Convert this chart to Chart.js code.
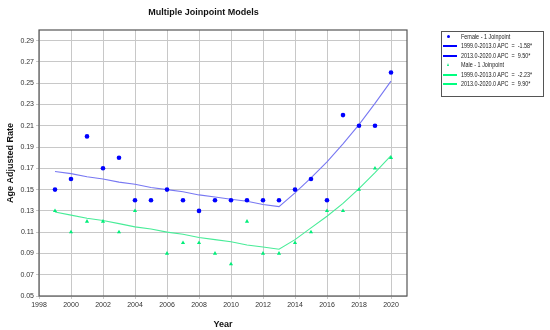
<!DOCTYPE html>
<html>
<head>
<meta charset="utf-8">
<script src="https://cdn.jsdelivr.net/npm/chart.js@4/dist/chart.umd.min.js"></script>
<style>
  body { margin: 0; background: #fff; }
  #wrap { position: relative; width: 550px; height: 330px; }
  #legend {
    position: absolute; left: 441px; top: 31px; width: 103px; height: 66px;
    border: 1px solid #555; box-sizing: border-box; padding-top: 0px;
    font-family: "Liberation Sans", Arial, sans-serif; font-size: 6.8px; color: #222;
  }
  .row { height: 9.4px; line-height: 9.4px; white-space: pre; position: relative; }
  .row .mk { position: absolute; left: 1px; width: 14px; top: 0; height: 9px; }
  .row .tx { position: absolute; left: 19px; top: 0; transform: scaleX(0.8); transform-origin: left center; }
</style>
</head>
<body>
<div id="wrap">
  <canvas id="canvas" width="550" height="330"></canvas>
  <div id="legend"></div>
</div>
<script>
var canvas = document.getElementById("canvas");
var ctx = canvas.getContext("2d");

// data
var years = [1999, 2000, 2001, 2002, 2003, 2004, 2005, 2006, 2007, 2008, 2009, 2010,
             2011, 2012, 2013, 2014, 2015, 2016, 2017, 2018, 2019, 2020];
var female = [0.15, 0.16, 0.20, 0.17, 0.18, 0.14, 0.14, 0.15, 0.14, 0.13, 0.14, 0.14,
              0.14, 0.14, 0.14, 0.15, 0.16, 0.14, 0.22, 0.21, 0.21, 0.26];
var male = [0.13, 0.11, 0.12, 0.12, 0.11, 0.13, 0.14, 0.09, 0.10, 0.10, 0.09, 0.08,
            0.12, 0.09, 0.09, 0.10, 0.11, 0.13, 0.13, 0.15, 0.17, 0.18];
var femaleFit = [0.167, 0.165, 0.162, 0.160, 0.157, 0.155, 0.152, 0.150, 0.148, 0.145, 0.143, 0.141,
                 0.139, 0.136, 0.134, 0.147, 0.161, 0.176, 0.193, 0.211, 0.231, 0.252];
var maleFit = [0.129, 0.126, 0.123, 0.121, 0.118, 0.115, 0.113, 0.110, 0.108, 0.105, 0.103, 0.101,
               0.098, 0.096, 0.094, 0.103, 0.114, 0.125, 0.137, 0.151, 0.166, 0.182];

var xTicks = [1998, 2000, 2002, 2004, 2006, 2008, 2010, 2012, 2014, 2016, 2018, 2020];
var yTicks = [0.05, 0.07, 0.09, 0.11, 0.13, 0.15, 0.17, 0.19, 0.21, 0.23, 0.25, 0.27, 0.29];

var legendLabels = ["Female - 1 Joinpoint", "1999.0-2013.0 APC  =  -1.58*", "2013.0-2020.0 APC  =  9.50*",
                    "Male - 1 Joinpoint", "1999.0-2013.0 APC  =  -2.23*", "2013.0-2020.0 APC  =  9.90*"];

function pts(vals) {
    return years.map(function(y, i) { return {x: y, y: vals[i]}; });
}

var frame = {
    id: 'frame',
    afterDraw: function(chart) {
        var a = chart.chartArea;
        var c = chart.ctx;
        c.save();
        c.strokeStyle = '#555';
        c.lineWidth = 1.2;
        c.strokeRect(a.left, a.top, a.right - a.left, a.bottom - a.top);
        c.restore();
    }
};

var tickFont = {family: "Liberation Sans", size: 7};
var titleFont = {family: "Liberation Sans", size: 9, weight: 'bold'};

var chart = new Chart(ctx, {
    type: 'scatter',
    data: {
        datasets: [
            {data: pts(femaleFit), type: 'line', borderColor: '#7878f2', borderWidth: 1.1, pointRadius: 0, tension: 0, order: 3},
            {data: pts(maleFit), type: 'line', borderColor: '#48ec98', borderWidth: 1.1, pointRadius: 0, tension: 0, order: 3},
            {data: pts(female), pointStyle: 'circle', pointRadius: 2.3, backgroundColor: '#0000ff', borderWidth: 0, order: 1},
            {data: pts(male), pointStyle: 'triangle', pointRadius: 2.4, backgroundColor: '#00ee7a', borderWidth: 0, order: 2}
        ]
    },
    options: {
        responsive: false,
        animation: false,
        layout: {padding: {left: 0, right: 143, top: 0, bottom: 0}},
        plugins: {
            legend: {display: false},
            tooltip: {enabled: false},
            title: {
                display: true,
                text: 'Multiple Joinpoint Models',
                font: titleFont,
                color: '#111',
                padding: {top: 7, bottom: 12.2}
            }
        },
        scales: {
            x: {
                type: 'linear', min: 1998, max: 2021,
                afterBuildTicks: function(s) { s.ticks = xTicks.map(function(v) { return {value: v}; }); },
                afterFit: function(s) { s.height = 34; },
                ticks: {font: tickFont, color: '#333', padding: 2, maxRotation: 0,
                        callback: function(v) { return String(v); }},
                grid: {color: '#c8c8c8', tickLength: 3, lineWidth: 1},
                border: {display: false},
                title: {display: true, text: 'Year', font: titleFont, color: '#111', padding: {top: 1, bottom: 0}}
            },
            y: {
                min: 0.05, max: 0.30,
                afterBuildTicks: function(s) { s.ticks = yTicks.map(function(v) { return {value: v}; }); },
                afterFit: function(s) { s.width = 39; },
                ticks: {font: tickFont, color: '#333', padding: 2,
                        callback: function(v) { return v.toFixed(2); }},
                grid: {color: '#c8c8c8', tickLength: 3, lineWidth: 1},
                border: {display: false},
                title: {display: true, text: 'Age Adjusted Rate', font: titleFont, color: '#111', padding: {top: 5, bottom: 4}}
            }
        }
    },
    plugins: [frame]
});

// html legend
var legendColors = ['#0000ff', '#0000ff', '#0000ff', '#00ee7a', '#00ff80', '#00ff80'];
var legendKinds = ['dot', 'line', 'line', 'tri', 'line', 'line'];
var legend = document.getElementById('legend');
legendLabels.forEach(function(txt, i) {
    var row = document.createElement('div');
    row.className = 'row';
    var mk = document.createElement('span');
    mk.className = 'mk';
    if (legendKinds[i] === 'line') {
        mk.innerHTML = '<span style="position:absolute;left:0;width:14px;top:4px;height:2px;background:' + legendColors[i] + '"></span>';
    } else if (legendKinds[i] === 'dot') {
        mk.innerHTML = '<span style="position:absolute;left:4px;top:3px;width:3px;height:3px;border-radius:50%;background:' + legendColors[i] + '"></span>';
    } else {
        mk.innerHTML = '<span style="position:absolute;left:4px;top:3px;width:0;height:0;border-left:1.5px solid transparent;border-right:1.5px solid transparent;border-bottom:3px solid ' + legendColors[i] + '"></span>';
    }
    var tx = document.createElement('span');
    tx.className = 'tx';
    tx.textContent = txt;
    row.appendChild(mk);
    row.appendChild(tx);
    legend.appendChild(row);
});
</script>
</body>
</html>
